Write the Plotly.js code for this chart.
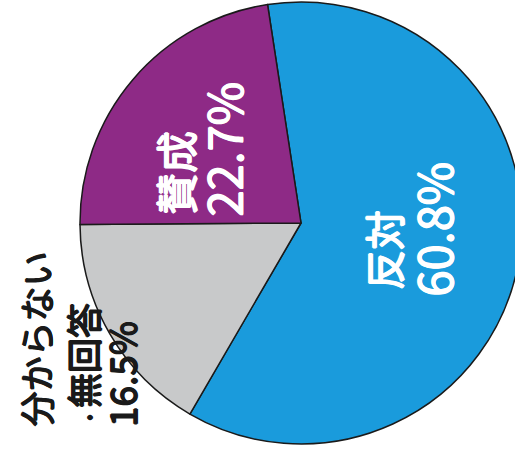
<!DOCTYPE html>
<html>
<head>
<meta charset="utf-8">
<script src="https://cdn.plot.ly/plotly-3.0.1.min.js"></script>
<style>
html,body{margin:0;padding:0;overflow:hidden;background:#fff;width:515px;height:454px;}
#chart{width:530px;height:454px;}
</style>
</head>
<body>
<div id="chart"></div>
<script>
// Data
const labels = ["反対", "分からない・無回答", "賛成"];
const values = [60.8, 16.5, 22.7];
const colors = ["#1a9bdc", "#c8c9ca", "#8e2a86"];

// Layout (pixels of the drawing area)
const W = 530, H = 454;
const cx = 301, cy = 223, R = 221;
const FONT = "Noto Sans CJK JP, Noto Sans, sans-serif";

// label lines: which slice, line part, x-centre px, bottom px, size, colour
const lineSpecs = [
  {i: 0, part: "name",  x: 383, bottom: 291, size: 40, color: "#ffffff"},
  {i: 0, part: "value", x: 432, bottom: 298, size: 47, color: "#ffffff"},
  {i: 2, part: "name",  x: 174, bottom: 216, size: 42, color: "#ffffff"},
  {i: 2, part: "value", x: 222, bottom: 218, size: 47, color: "#ffffff"},
  {i: 1, part: "name0", x: 35,  bottom: 428, size: 35, color: "#1a1a1a"},
  {i: 1, part: "name1", x: 82,  bottom: 428, size: 35, color: "#1a1a1a"},
  {i: 1, part: "value", x: 121, bottom: 428, size: 37, color: "#1a1a1a"}
];

function lineText(s) {
  const name = labels[s.i];
  if (s.part === "value") return values[s.i].toFixed(1) + "%";
  if (s.part === "name") return name;
  const parts = name.split("・");
  return s.part === "name0" ? parts[0]
    : '<span style="font-size:19px">・</span>' + parts[1];
}

function embolden(c) {
  const d = "0.7px";
  return [d + " 0 0 " + c, "-" + d + " 0 0 " + c, "0 " + d + " 0 " + c, "0 -" + d + " 0 " + c].join(", ");
}

const annotations = lineSpecs.map(s => ({
  text: lineText(s),
  xref: "paper", yref: "paper",
  x: s.x / W, y: (H - s.bottom) / H,
  xanchor: "center", yanchor: "bottom",
  textangle: -90,
  showarrow: false,
  borderpad: 0,
  font: {family: FONT, size: s.size, color: s.color, weight: "normal", shadow: embolden(s.color)}
}));

const trace = {
  type: "pie",
  labels: labels,
  values: values,
  sort: false,
  direction: "clockwise",
  rotation: -8.7,
  textinfo: "none",
  hoverinfo: "none",
  marker: {colors: colors, line: {color: "#1a1a1a", width: 1.5}},
  domain: {
    x: [(cx - R) / W, (cx + R) / W],
    y: [(H - cy - R) / H, (H - cy + R) / H]
  }
};

const layout = {
  width: W, height: H,
  margin: {l: 0, r: 0, t: 0, b: 0, pad: 0},
  paper_bgcolor: "#ffffff",
  plot_bgcolor: "#ffffff",
  showlegend: false,
  annotations: annotations
};

Plotly.newPlot("chart", [trace], layout, {staticPlot: true, displayModeBar: false});
</script>
</body>
</html>
